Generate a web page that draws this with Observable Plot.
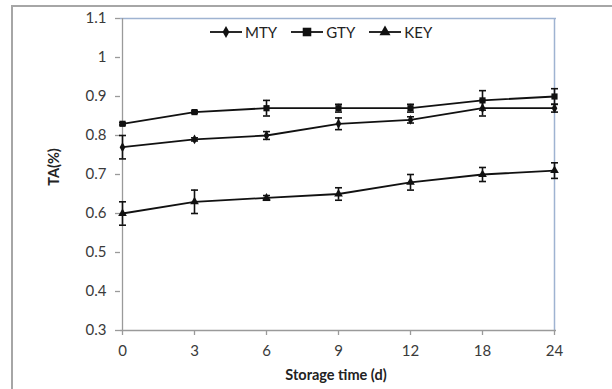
<!DOCTYPE html>
<html>
<head>
<meta charset="utf-8">
<script src="https://cdn.jsdelivr.net/npm/d3@7"></script>
<script src="https://cdn.jsdelivr.net/npm/@observablehq/plot@0.6"></script>
<style>
  body { margin: 0; background: #fff; }
  #wrap { position: relative; width: 612px; height: 389px; overflow: hidden; font-family: Lato, "Open Sans", sans-serif; }
  #frame { position: absolute; left: 11px; top: 5px; width: 700px; height: 500px; border-left: 2px solid #a6a6a6; border-top: 2px solid #a6a6a6; }
  #chart { position: absolute; left: 0; top: 0; }
  .xtitle { position: absolute; left: 236px; width: 200px; text-align: center; top: 366px; line-height: 18px; font-weight: bold; font-size: 14.5px; color: #222; }
  .ytitle { position: absolute; left: 53px; top: 167px; transform: translate(-50%, -50%) rotate(-90deg); font-weight: bold; font-size: 14.5px; color: #222; white-space: nowrap; }
  #legend { position: absolute; left: 210px; top: 23px; display: flex; gap: 14px; font-size: 15px; color: #222; align-items: center; }
  #legend .item { display: flex; align-items: center; }
  #legend svg { margin-right: 3px; }
</style>
</head>
<body>
<div id="wrap">
  <div id="frame"></div>
  <div id="chart"></div>
  <div class="xtitle">Storage time (d)</div>
  <div class="ytitle">TA(%)</div>
  <div id="legend"></div>
</div>
<script>
const days = ["0", "3", "6", "9", "12", "18", "24"];
const seriesNames = ["MTY", "GTY", "KEY"];
const mtyValues = [0.77, 0.79, 0.80, 0.83, 0.84, 0.87, 0.87];
const mtyErrors = [0.03, 0.004, 0.01, 0.015, 0.008, 0.02, 0.01];
const gtyValues = [0.83, 0.86, 0.87, 0.87, 0.87, 0.89, 0.90];
const gtyErrors = [0.003, 0.003, 0.02, 0.01, 0.01, 0.025, 0.02];
const keyValues = [0.60, 0.63, 0.64, 0.65, 0.68, 0.70, 0.71];
const keyErrors = [0.03, 0.03, 0.006, 0.016, 0.02, 0.018, 0.02];
const yTicks = [0.3, 0.4, 0.5, 0.6, 0.7, 0.8, 0.9, 1.0, 1.1];

const symbolsBy = { MTY: "diamond", GTY: "square", KEY: "triangle" };
const rBy = { MTY: 4.0, GTY: 5.4, KEY: 4.6 };
const valuesBy = { MTY: mtyValues, GTY: gtyValues, KEY: keyValues };
const errorsBy = { MTY: mtyErrors, GTY: gtyErrors, KEY: keyErrors };

const rows = [];
for (const s of seriesNames) {
  days.forEach((d, i) => rows.push({ series: s, day: d, value: valuesBy[s][i], err: errorsBy[s][i] }));
}
const caps = rows.flatMap(r => [{ ...r, y: r.value - r.err }, { ...r, y: r.value + r.err }]);

const capSymbol = { draw(ctx) { ctx.moveTo(-3.5, 0); ctx.lineTo(3.5, 0); } };

const ink = "#111";
const axisGray = "#9a9a9a";
const boxBlue = "#9fb3d1";

const chart = Plot.plot({
  width: 612,
  height: 389,
  marginLeft: 120,
  marginRight: 56,
  marginTop: 18,
  marginBottom: 59,
  style: { fontFamily: "Lato, 'Open Sans', sans-serif", fontSize: "15px", color: "#3a3a3a", background: "transparent" },
  x: { type: "point", domain: days, padding: 0 },
  y: { domain: [0.3, 1.1] },
  marks: [
    Plot.ruleY([1.1], { stroke: boxBlue, strokeWidth: 1.5 }),
    Plot.ruleX(["24"], { stroke: boxBlue, strokeWidth: 1.5 }),
    Plot.ruleX(["0"], { stroke: axisGray, strokeWidth: 1.3 }),
    Plot.ruleY([0.3], { stroke: axisGray, strokeWidth: 1.3 }),
    Plot.axisX({ label: null, tickSize: 5, tickPadding: 10, stroke: axisGray, strokeWidth: 1.3 }),
    Plot.axisY({ ticks: yTicks, tickFormat: d => (Math.abs(d - 1) < 1e-9 ? "1" : d.toFixed(1)), label: null, tickSize: 5, tickPadding: 9, stroke: axisGray, strokeWidth: 1.3 }),
    Plot.ruleX(rows, { x: "day", y1: r => r.value - r.err, y2: r => r.value + r.err, stroke: ink, strokeWidth: 1.6 }),
    Plot.dot(caps, { x: "day", y: "y", symbol: () => capSymbol, stroke: ink, strokeWidth: 1.6, fill: "none", r: 3 }),
    Plot.line(rows, { x: "day", y: "value", z: "series", stroke: ink, strokeWidth: 1.8 }),
    Plot.dot(rows, { x: "day", y: "value", symbol: r => symbolsBy[r.series], r: r => rBy[r.series], fill: ink, stroke: "none" })
  ]
});
document.getElementById("chart").appendChild(chart);

// Legend
const legend = document.getElementById("legend");
for (const s of seriesNames) {
  const item = document.createElement("div");
  item.className = "item";
  const sym = { MTY: d3.symbolDiamond, GTY: d3.symbolSquare, KEY: d3.symbolTriangle }[s];
  const size = Math.PI * rBy[s] * rBy[s] * 0.8;
  const path = d3.symbol(sym, size)();
  item.innerHTML = `<svg width="32" height="16"><line x1="0" x2="32" y1="8" y2="8" stroke="${ink}" stroke-width="1.8"/><path transform="translate(16,8)" d="${path}" fill="${ink}"/></svg><span>${s}</span>`;
  legend.appendChild(item);
}
</script>
</body>
</html>
